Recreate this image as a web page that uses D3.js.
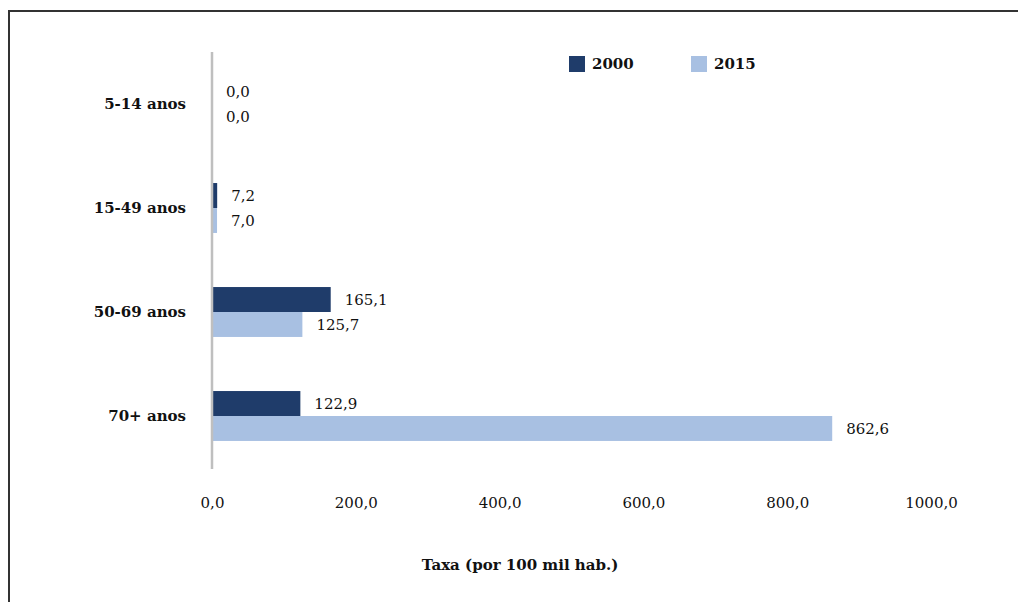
<!DOCTYPE html>
<html><head><meta charset="utf-8">
<script src="https://cdn.jsdelivr.net/npm/d3@7"></script>
<style>body{margin:0;background:#fff}svg{display:block}</style>
</head><body>
<script>
const categories = ["5-14 anos","15-49 anos","50-69 anos","70+ anos"];
const series = ["2000","2015"];
const values2000 = [0.0, 7.2, 165.1, 122.9];
const values2015 = [0.0, 7.0, 125.7, 862.6];
const xTicks = [0,200,400,600,800,1000];
const colors = ["#1f3c6a","#a8c0e2"];
const axisTitle = "Taxa (por 100 mil hab.)";

const FONT = "'DejaVu Serif', 'Liberation Serif', serif";
const W=1018,H=602;
const svg=d3.select("body").append("svg").attr("width",W).attr("height",H)
  .attr("font-family",FONT).attr("fill","#111");
svg.append("path").attr("d","M9,602V11H1018").attr("fill","none").attr("stroke","#333").attr("stroke-width",2);

const x=d3.scaleLinear().domain([0,1000]).range([212,931]);
const y=d3.scaleBand().domain(categories).range([52,468]).paddingInner(0.52).paddingOuter(0.26);
const sub=d3.scaleBand().domain(series).range([0,y.bandwidth()]);
const fmt=v=>d3.format(".1f")(v).replace(".",",");
const data=[values2000,values2015];

const g=svg.append("g");
categories.forEach((c,i)=>{
  series.forEach((s,j)=>{
    const v=data[j][i];
    const yy=y(c)+sub(s);
    g.append("rect").attr("x",x(0)).attr("y",yy).attr("width",x(v)-x(0)).attr("height",sub.bandwidth()).attr("fill",colors[j]);
    g.append("text").attr("x",x(v)+14).attr("y",yy+sub.bandwidth()/2).attr("dy","0.35em").attr("font-size",15).attr("fill","#111").text(fmt(v));
  });
});

svg.append("line").attr("x1",212).attr("x2",212).attr("y1",52).attr("y2",469).attr("stroke","#bfbfbf").attr("stroke-width",2.5);
categories.forEach(c=>{
  svg.append("text").attr("x",186).attr("y",y(c)+y.bandwidth()/2).attr("dy","0.35em").attr("text-anchor","end").attr("font-size",15).attr("font-weight","bold").attr("fill","#111").text(c);
});
const xa=svg.append("g").attr("transform","translate(0,503)").call(d3.axisBottom(x).tickValues(xTicks).tickFormat(fmt).tickSize(0));
xa.attr("font-family",FONT);
xa.select(".domain").remove();
xa.selectAll("text").attr("font-size",15).attr("fill","#111").attr("dy","0.35em").attr("y",0);
svg.append("text").attr("x",520).attr("y",565).attr("dy","0.35em").attr("text-anchor","middle").attr("font-size",15).attr("font-weight","bold").attr("fill","#111").text(axisTitle);
const lx=[569,691];
series.forEach((s,j)=>{
  svg.append("rect").attr("x",lx[j]).attr("y",56).attr("width",16).attr("height",16).attr("fill",colors[j]);
  svg.append("text").attr("x",lx[j]+23).attr("y",64).attr("dy","0.35em").attr("font-size",15).attr("font-weight","bold").attr("fill","#111").text(s);
});
</script>
</body></html>
